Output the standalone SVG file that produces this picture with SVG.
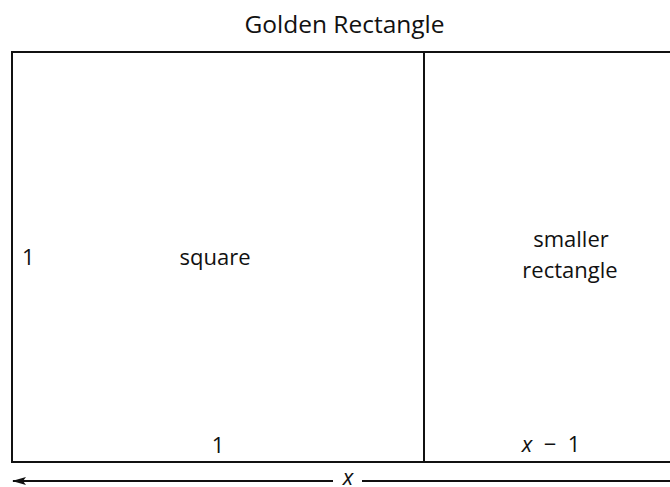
<svg xmlns="http://www.w3.org/2000/svg" width="670" height="487" viewBox="0 0 670 487">
<defs>
<style>
.t{font-family:"Open Sans","Noto Sans",sans-serif;fill:#111;}
.lbl{font-size:22px;}
.ln{stroke:#111;stroke-width:2;fill:none;}
.it{font-style:italic;}
</style>
<marker id="ah" viewBox="0 0 14 10" refX="1" refY="5" markerWidth="14" markerHeight="10" markerUnits="userSpaceOnUse" orient="auto">
<path d="M14,1 L0,5 L14,9 L11,5 Z" fill="#111"/>
</marker>
</defs>
<rect width="670" height="487" fill="#fff"/>
<text class="t" x="344.5" y="33" font-size="24.5" text-anchor="middle">Golden Rectangle</text>
<g id="square">
<path class="ln" d="M670,52 H12 V462 H670"/>
<text class="t lbl" x="215" y="265" text-anchor="middle">square</text>
<text class="t lbl" x="22" y="265">1</text>
<text class="t lbl" x="218" y="453" text-anchor="middle">1</text>
</g>
<g id="smaller-rectangle">
<line class="ln" x1="424" y1="52" x2="424" y2="462"/>
<text class="t lbl" x="571" y="247" text-anchor="middle">smaller</text>
<text class="t lbl" x="570" y="278" text-anchor="middle">rectangle</text>
<text class="t lbl" x="551" y="452" text-anchor="middle" xml:space="preserve"><tspan class="it">x</tspan>  −  1</text>
</g>
<g id="connectors">
<line class="ln" x1="13" y1="481" x2="333" y2="481" marker-start="url(#ah)"/>
<line class="ln" x1="362" y1="481" x2="670" y2="481"/>
<text class="t lbl it" x="348" y="485" text-anchor="middle">x</text>
</g>
</svg>
